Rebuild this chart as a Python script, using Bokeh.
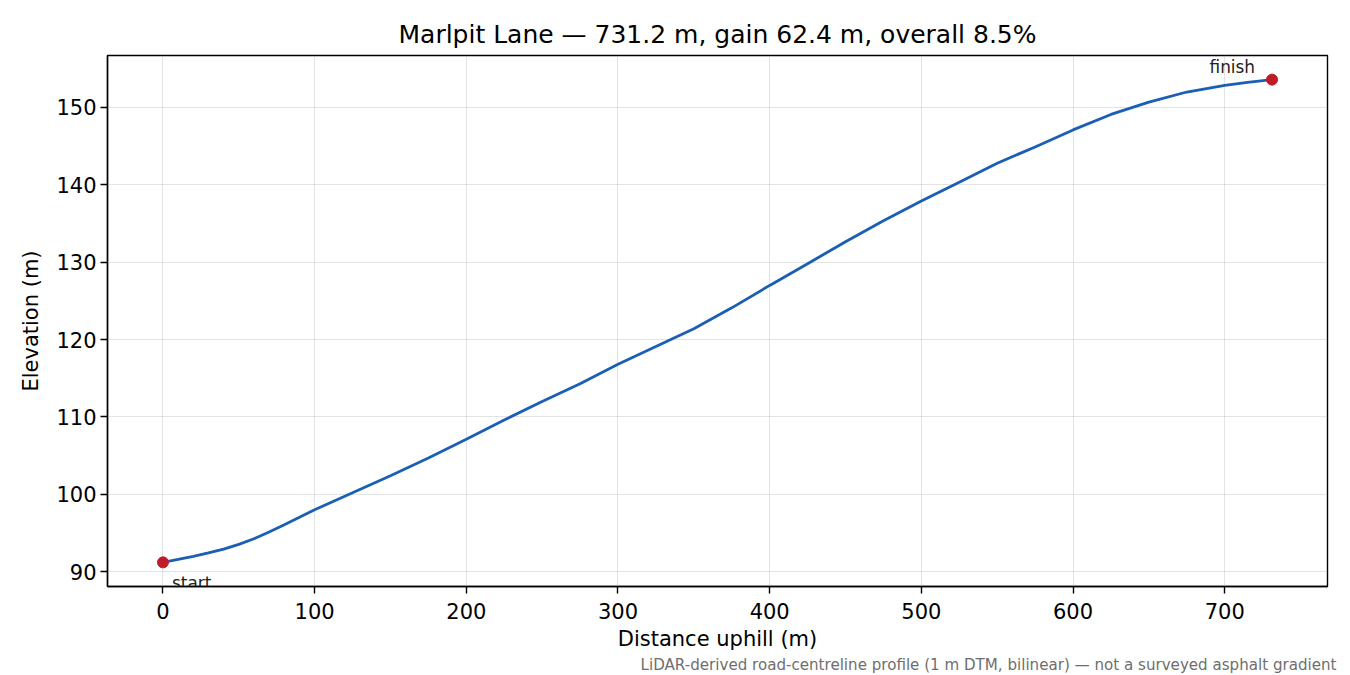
from bokeh.plotting import figure
from bokeh.models import FixedTicker, Title, Range1d, ColumnDataSource
from bokeh.embed import file_html
from bokeh.resources import INLINE
from bokeh.core.properties import value

# ---- data ----
distance = [0, 10, 20, 30, 40, 50, 60, 70, 80, 90, 100, 125, 150, 175, 200,
            225, 250, 275, 300, 325, 350, 375, 400, 425, 450, 475, 500, 525,
            550, 575, 600, 625, 650, 675, 700, 715, 731.2]
elevation = [91.2, 91.58, 91.98, 92.42, 92.92, 93.52, 94.25, 95.12, 96.05,
             97.03, 98.0, 100.2, 102.4, 104.7, 107.1, 109.6, 112.0, 114.3,
             116.8, 119.1, 121.4, 124.1, 127.0, 129.8, 132.65, 135.35, 137.9,
             140.35, 142.8, 144.9, 147.1, 149.1, 150.7, 152.0, 152.85,
             153.25, 153.6]
end_labels = ["start", "finish"]
x_ticks = [0, 100, 200, 300, 400, 500, 600, 700]
y_ticks = [90, 100, 110, 120, 130, 140, 150]
title_text = "Marlpit Lane \u2014 731.2 m, gain 62.4 m, overall 8.5%"
footnote = ("LiDAR-derived road-centreline profile (1 m DTM, bilinear) "
            "\u2014 not a surveyed asphalt gradient")

FONT = "DejaVu Sans"

xmin, xmax = min(distance), max(distance)
ymin, ymax = min(elevation), max(elevation)
xpad = 0.05 * (xmax - xmin)
ypad = 0.05 * (ymax - ymin)

p = figure(frame_width=1220, frame_height=531,
           x_range=Range1d(xmin - xpad, xmax + xpad),
           y_range=Range1d(ymin - ypad, ymax + ypad),
           output_backend="svg", toolbar_location=None,
           min_border_left=107, min_border_right=15,
           min_border_top=55, min_border_bottom=70)

p.title.text = title_text
p.title.align = "center"
p.title.text_font = FONT
p.title.text_font_size = "25px"
p.title.text_font_style = "normal"
p.title.text_color = "black"
p.title.standoff = 13

p.outline_line_color = "black"
p.outline_line_width = 1.4
p.background_fill_color = "white"
p.border_fill_color = "white"

for ax in (p.xaxis, p.yaxis):
    ax.axis_line_color = "black"
    ax.axis_line_width = 1.4
    ax.major_tick_line_color = "black"
    ax.major_tick_line_width = 1.4
    ax.major_tick_out = 7
    ax.major_tick_in = 0
    ax.minor_tick_line_color = None
    ax.major_label_text_font = FONT
    ax.major_label_text_font_size = "21px"
    ax.major_label_text_color = "black"
    ax.axis_label_text_font = FONT
    ax.axis_label_text_font_size = "21px"
    ax.axis_label_text_font_style = "normal"
    ax.axis_label_text_color = "black"

p.xaxis.ticker = FixedTicker(ticks=x_ticks)
p.yaxis.ticker = FixedTicker(ticks=y_ticks)
p.xaxis.axis_label = "Distance uphill (m)"
p.yaxis.axis_label = "Elevation (m)"
p.xaxis.major_label_standoff = 9
p.yaxis.major_label_standoff = 4
p.xaxis.axis_label_standoff = 5
p.yaxis.axis_label_standoff = 10

p.grid.grid_line_color = "#b0b0b0"
p.grid.grid_line_alpha = 0.35
p.grid.grid_line_width = 1

p.line(distance, elevation, line_color="#1a5fb4", line_width=2.8)

ends = ColumnDataSource(dict(x=[distance[0], distance[-1]],
                             y=[elevation[0], elevation[-1]],
                             t=end_labels))
p.scatter("x", "y", source=ends, size=11, fill_color="#c01c28",
          line_color="#c01c28")

p.text([distance[0]], [elevation[0]], text=[end_labels[0]],
       x_offset=9, y_offset=11, text_align="left", text_baseline="top",
       text_font=value(FONT), text_font_size="16.9px", text_color="#222222")
p.text([distance[-1]], [elevation[-1]], text=[end_labels[1]],
       x_offset=-17, y_offset=-13, text_align="right",
       text_baseline="alphabetic",
       text_font=value(FONT), text_font_size="16.9px", text_color="#222222")

note = Title(text=footnote, align="right", text_font=FONT,
             text_font_size="15.1px", text_font_style="normal",
             text_color="#6e6e6e", standoff=0, offset=-9)
p.add_layout(note, "below")

open("out.html", "w").write(file_html(p, INLINE))
